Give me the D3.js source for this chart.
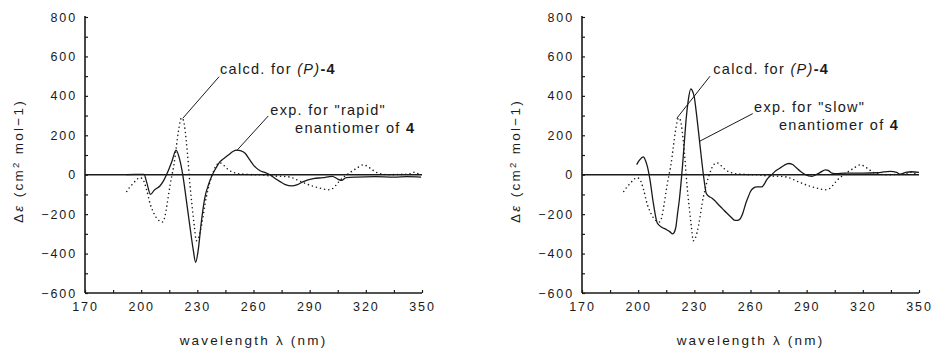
<!DOCTYPE html>
<html>
<head>
<meta charset="utf-8">
<script src="https://cdn.jsdelivr.net/npm/d3@7"></script>
<style>
  body { margin: 0; background: #fff; }
  svg { display: block; }
  text { font-family: "Liberation Sans", Arial, sans-serif; fill: #1a1a1a; }
</style>
</head>
<body>
<svg id="chart" width="934" height="350"></svg>
<script>
// tick labels
const xTicks = [170, 200, 230, 260, 290, 320, 350];
const yTicks = [-600, -400, -200, 0, 200, 400, 600, 800];

// calculated CD spectrum for (P)-4 (dotted, same in both panels) [wavelength nm, delta eps]
const calcdP4 = [
  [192.3, -85], [194, -62], [195.8, -44], [197.5, -25], [199.4, -15], [201.1, -27], [203, -80],
  [204.7, -145], [206.5, -190], [208.3, -221], [210, -236], [211.5, -240], [212.6, -215],
  [213.6, -165], [214.5, -110], [215.4, -55], [216.5, 0], [217.5, 50], [218.7, 135], [219.8, 215],
  [220.8, 268], [221.5, 288], [222.4, 280], [223.2, 245], [224, 180], [224.6, 120], [225.2, 55],
  [225.7, -10], [226.5, -95], [227.5, -185], [228.5, -270], [229.4, -335], [230.4, -325],
  [231.4, -295], [232.3, -255], [233.2, -205], [234.1, -150], [235, -105], [236, -65],
  [236.8, -35], [238, 0], [239.4, 35], [240.8, 55], [242.1, 60], [243.5, 53], [244.8, 41],
  [246.5, 26], [248.4, 15], [250.5, 8], [252.8, 4], [256, 2], [260, 0], [263.5, 0], [267, -4],
  [271, -7], [275, -8], [279.5, -12], [283, -25], [286.6, -40], [291, -56], [295.5, -68],
  [300, -76], [302.6, -68], [304.5, -48], [306.2, -29], [308.5, -10], [310.6, 5], [313, 20],
  [315, 32], [318.7, 50], [322.2, 34], [325, 15], [327.6, 5], [332, 0], [340, 2], [344, 5],
  [346, 13], [348, 5], [349.5, 0]
];

// experimental spectrum, "rapid" enantiomer (solid, left panel)
const expRapid = [
  [192, 0], [197, 2], [201.5, 2], [203, -40], [205, -100], [207, -78], [210, -57], [212, -30],
  [214, 10], [216.5, 70], [218.6, 125], [220.5, 80], [222.2, 0], [224, -120], [226, -260],
  [227.8, -380], [229.1, -444], [230.5, -380], [232, -250], [234.1, -112], [236, -50],
  [237.7, -7], [240, 35], [242.1, 66], [244.5, 85], [246.6, 100], [249, 118], [251, 125],
  [253, 122], [255.5, 109], [258, 75], [260, 49], [263.5, 20], [266, 12], [268.8, 0],
  [271, -15], [274.2, -35], [277, -50], [280.4, -57], [283.5, -50], [286.6, -35], [292, -20],
  [297, -15], [302, -8], [305, -22], [307, -29], [309.5, -15], [315, -12], [325, -10],
  [335, -12], [342, -10], [349.5, -12]
];

// experimental spectrum, "slow" enantiomer (solid, right panel)
const expSlow = [
  [199.2, 51], [200.8, 75], [202.7, 90], [204, 70], [204.9, 42], [206.3, -25], [208.1, -144],
  [210.2, -245], [212.6, -266], [215.2, -279], [217, -290], [218.4, -300], [219.4, -290],
  [220.2, -262], [221, -200], [222, -127], [223, -30], [223.8, 59], [224.7, 170], [225.6, 279],
  [226.8, 380], [228.1, 435], [229, 425], [229.9, 397], [231.3, 296], [232.7, 178],
  [233.6, 100], [234.5, 25], [235.4, -40], [236.3, -93], [237.5, -108], [239.3, -118],
  [241, -132], [242.9, -152], [245, -172], [247.3, -194], [249.5, -214], [251.7, -232],
  [253, -232], [254.4, -225], [255.3, -210], [256.2, -186], [257.5, -145], [258.9, -110],
  [260, -85], [261.5, -68], [263.5, -62], [266, -62], [267.5, -45], [268.7, -25], [271.3, 0],
  [273.5, 20], [275.8, 34], [278, 48], [280.4, 57], [282.5, 52], [284.5, 35], [286.6, 17],
  [289, 2], [292.9, -8], [295, 0], [297.3, 12], [300, 25], [301.5, 22], [303.5, 8], [306, 5],
  [310, 8], [320, 8], [328, 10], [331, 14], [334.7, 17], [338, 12], [340, 3], [343, 12],
  [346, 15], [350, 12]
];

const ink = "#1a1a1a";
const svg = d3.select("#chart");

const panels = [
  {
    left: 85, exp: expRapid, expWord: '"rapid"',
    calcdText: [242.1, 511], calcdFrom: [241.6, 497], calcdTo: [222.2, 286],
    expText: [269, 302], expFrom: [267.9, 298], expTo: [251, 122], enantText: [282.2, 213]
  },
  {
    left: 582, exp: expSlow, expWord: '"slow"',
    calcdText: [240.1, 511], calcdFrom: [238.4, 500], calcdTo: [220.6, 286],
    expText: [261.9, 316], expFrom: [261.2, 310], expTo: [232.7, 169], enantText: [275.2, 227]
  }
];

function drawPanel(p) {
  const width = 337, top = 17, bottom = 293;
  const x = d3.scaleLinear().domain([170, 350]).range([p.left, p.left + width]);
  const y = d3.scaleLinear().domain([-600, 800]).range([bottom, top]);
  const g = svg.append("g");

  // tick labels
  const yAxis = g.append("g")
    .attr("transform", `translate(${p.left - 8},0)`)
    .call(d3.axisLeft(y).tickValues(yTicks).tickSize(0).tickPadding(0));
  const xAxis = g.append("g")
    .attr("transform", `translate(0,${bottom + 9})`)
    .call(d3.axisBottom(x).tickValues(xTicks).tickSize(0).tickPadding(0));
  [yAxis, xAxis].forEach(a => {
    a.select(".domain").remove();
    a.selectAll("text")
      .attr("fill", ink)
      .style("font-family", '"Liberation Sans", Arial, sans-serif')
      .style("font-size", "12.5px")
      .style("letter-spacing", "1.9px");
  });

  // small inward ticks
  g.append("g").attr("transform", `translate(${p.left},0)`)
    .call(d3.axisRight(y).tickValues(d3.range(-600, 801, 100)).tickSize(3).tickFormat(""))
    .call(a => a.select(".domain").remove());
  g.append("g").attr("transform", `translate(0,${bottom})`)
    .call(d3.axisTop(x).tickValues(d3.range(170, 351, 15)).tickSize(3).tickFormat(""))
    .call(a => a.select(".domain").remove());
  g.selectAll(".tick line").attr("stroke", ink).attr("stroke-width", 1.2);

  // axis lines
  g.append("line").attr("x1", x(170)).attr("x2", x(170)).attr("y1", y(800) - 1).attr("y2", y(-600))
    .attr("stroke", ink).attr("stroke-width", 1.6);
  g.append("line").attr("x1", x(170)).attr("x2", x(350)).attr("y1", y(-600)).attr("y2", y(-600))
    .attr("stroke", ink).attr("stroke-width", 1.6);
  // zero line
  g.append("line").attr("x1", x(170)).attr("x2", x(350)).attr("y1", y(0)).attr("y2", y(0))
    .attr("stroke", ink).attr("stroke-width", 1.4);

  const line = d3.line()
    .x(d => x(d[0]))
    .y(d => y(d[1]))
    .curve(d3.curveMonotoneX);

  // calculated (dotted)
  g.append("path").datum(calcdP4)
    .attr("fill", "none").attr("stroke", ink).attr("stroke-width", 1.6)
    .attr("stroke-linecap", "round").attr("stroke-dasharray", "0,4.2")
    .attr("d", line);

  // experimental (solid)
  g.append("path").datum(p.exp)
    .attr("fill", "none").attr("stroke", ink).attr("stroke-width", 1.3)
    .attr("stroke-linejoin", "round")
    .attr("d", line);

  // axis titles
  g.append("text")
    .attr("x", x(260)).attr("y", 345)
    .attr("text-anchor", "middle")
    .style("font-size", "13.5px").style("letter-spacing", "2.2px")
    .text("wavelength λ (nm)");
  const yt = g.append("text")
    .attr("transform", `translate(${p.left - 62},${y(70)}) rotate(-90)`)
    .attr("text-anchor", "middle")
    .style("font-size", "13.5px").style("letter-spacing", "2.3px");
  yt.append("tspan").text("Δ");
  yt.append("tspan").style("font-style", "italic").text("ε");
  yt.append("tspan").text(" (cm");
  yt.append("tspan").attr("dy", -4).style("font-size", "9.5px").text("2");
  yt.append("tspan").attr("dy", 4).text(" mol−1)");

  // annotations
  const ann = { fontSize: "14.5px", spacing: "1.3px" };
  g.append("line")
    .attr("x1", x(p.calcdFrom[0])).attr("y1", y(p.calcdFrom[1]))
    .attr("x2", x(p.calcdTo[0])).attr("y2", y(p.calcdTo[1]))
    .attr("stroke", ink).attr("stroke-width", 1);
  const ct = g.append("text")
    .attr("x", x(p.calcdText[0])).attr("y", y(p.calcdText[1]))
    .style("font-size", ann.fontSize).style("letter-spacing", ann.spacing);
  ct.append("tspan").text("calcd. for ");
  ct.append("tspan").style("font-style", "italic").text("(P)");
  ct.append("tspan").style("font-weight", "bold").text("-4");

  g.append("line")
    .attr("x1", x(p.expFrom[0])).attr("y1", y(p.expFrom[1]))
    .attr("x2", x(p.expTo[0])).attr("y2", y(p.expTo[1]))
    .attr("stroke", ink).attr("stroke-width", 1);
  g.append("text")
    .attr("x", x(p.expText[0])).attr("y", y(p.expText[1]))
    .style("font-size", ann.fontSize).style("letter-spacing", ann.spacing)
    .text("exp. for " + p.expWord);
  const et = g.append("text")
    .attr("x", x(p.enantText[0])).attr("y", y(p.enantText[1]))
    .style("font-size", ann.fontSize).style("letter-spacing", ann.spacing);
  et.append("tspan").text("enantiomer of ");
  et.append("tspan").style("font-weight", "bold").text("4");
}

panels.forEach(drawPanel);
</script>
</body>
</html>
